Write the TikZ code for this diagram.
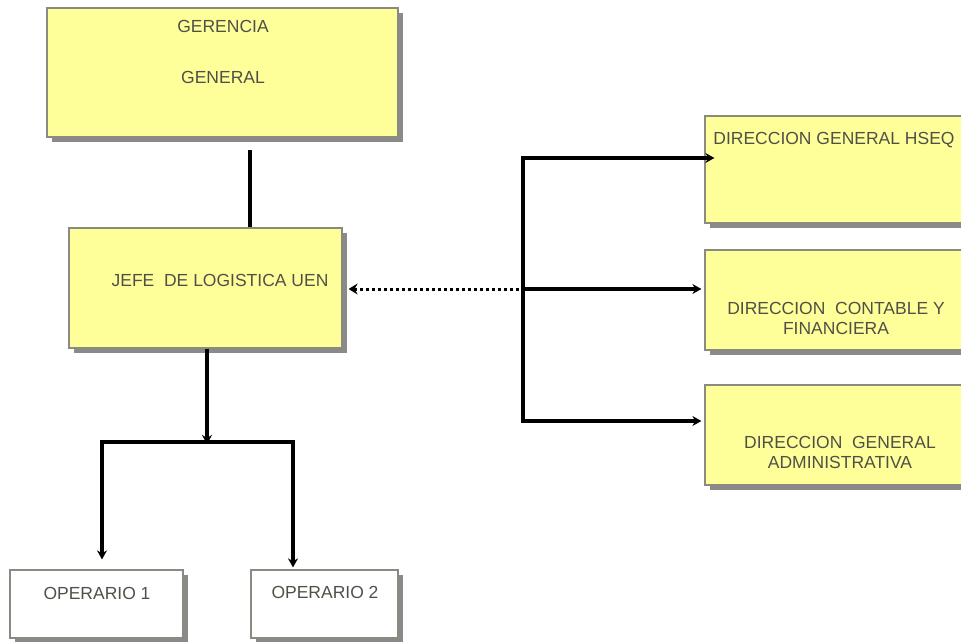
\documentclass[tikz,border=0pt]{standalone}
\usepackage{fontspec}
\setmainfont{Liberation Sans}
\usetikzlibrary{arrows.meta,shadows}
\definecolor{boxyellow}{HTML}{FFFF99}
\definecolor{boxborder}{HTML}{8A8A80}
\definecolor{txtgray}{HTML}{505048}
\tikzset{
  ybox/.style={draw=boxborder, line width=1.2pt, fill=boxyellow, rectangle, inner sep=0pt,
    drop shadow={shadow xshift=5pt, shadow yshift=-5pt, fill=black!65, opacity=0.7}},
  wbox/.style={ybox, fill=white},
  lbl/.style={font=\fontsize{17.5}{20}\selectfont, text=txtgray, inner sep=0pt, align=center},
  conn/.style={line width=3.4pt, black},
  arr/.style={conn, -{Stealth[length=9pt,width=10pt]}},
  dotarr/.style={line width=3pt, black, dash pattern=on 3pt off 3pt, {Stealth[length=9pt,width=11pt,inset=3pt]}-}
}
\begin{document}
\begin{tikzpicture}[x=1pt,y=-1pt]
\useasboundingbox (0,0) rectangle (961,642);
\clip (0,0) rectangle (961,642);
% boxes
\node[ybox, minimum width=351, minimum height=129] (ger) at (222.5,72.5) {};
\node[ybox, minimum width=273, minimum height=120] (jefe) at (205.5,288) {};
\node[ybox, minimum width=285, minimum height=107] (hseq) at (847.5,169.5) {};
\node[ybox, minimum width=285, minimum height=100] (cont) at (847.5,300) {};
\node[ybox, minimum width=285, minimum height=100] (adm) at (847.5,435) {};
\node[wbox, minimum width=173, minimum height=68] (op1) at (96.5,604) {};
\node[wbox, minimum width=147, minimum height=68] (op2) at (324.5,604) {};
% labels
\node[lbl] (t1) at (223,26) {GERENCIA};
\node[lbl] (t2) at (223,77) {GENERAL};
\node[lbl] (t3) at (220,280) {JEFE\ \ DE LOGISTICA\ UEN};
\node[lbl] (t4) at (834,140) {DIRECCION GENERAL HSEQ};
\node[lbl] (t5) at (836,318) {DIRECCION\ \ CONTABLE Y\\FINANCIERA};
\node[lbl] (t6) at (840,452) {DIRECCION\ \ GENERAL\\ADMINISTRATIVA};
\node[lbl] (t7) at (97,593) {OPERARIO 1};
\node[lbl] (t8) at (325,592) {OPERARIO 2};
% connectors
\coordinate (gtop) at (250,150);
\draw[conn] (gtop) -- (gtop |- jefe.north);
\coordinate (split) at (207,442);
\draw[arr] (jefe.south -| split) -- ([yshift=-2pt]split);
\coordinate (sl) at (102,442);
\coordinate (sr) at (293,442);
\draw[conn, line cap=rect] (sl) -- (sr);
\draw[arr, shorten >=10pt] (sl) -- (sl |- op1.north);
\draw[arr, shorten >=2pt] (sr) -- (sr |- op2.north);
\coordinate (bt) at (523,158);
\coordinate (bm) at (523,289);
\coordinate (bb) at (523,421);
\draw[conn] ([yshift=1.7pt]bt) -- ([yshift=-1.7pt]bb);
\draw[arr, shorten >=-10pt] ([xshift=-1.7pt]bt) -- (bt -| hseq.west);
\draw[arr, shorten >=3pt] (bm) -- (bm -| cont.west);
\draw[arr, shorten >=3pt] ([xshift=-1.7pt]bb) -- (bb -| adm.west);
\draw[dotarr, shorten <=6pt] (jefe.east |- bm) -- ([xshift=-1.7pt]bm);
\end{tikzpicture}
\end{document}
